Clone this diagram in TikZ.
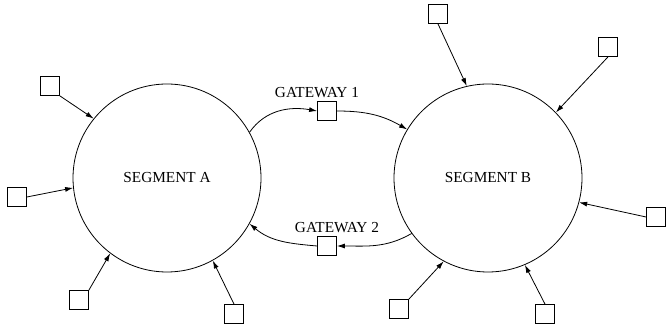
\documentclass[tikz,border=0pt]{standalone}
\usepackage{fontspec}
\setmainfont{Liberation Serif}
\usetikzlibrary{arrows.meta}
\tikzset{
  host/.style={rectangle, draw, minimum size=19pt, inner sep=0pt},
  segment/.style={circle, draw, minimum size=188pt, inner sep=0pt},
}
\begin{document}
\begin{tikzpicture}[x=1pt, y=1pt, line width=0.8pt, >={Latex[length=8pt,width=5pt]}, font=\fontsize{15.3}{18}\selectfont]
\useasboundingbox (0,0) rectangle (667,332);
% the two segments
\node (segA) at (167,154) [segment] {SEGMENT A};
\node (segB) at (488,154) [segment] {SEGMENT B};
% gateways between them
\node (gw1) at (327,221) [host, label={[xshift=-10pt]above:GATEWAY 1}] {};
\node (gw2) at (327,86) [host, label={[xshift=10pt]above:GATEWAY 2}] {};
\draw[->] (segA.29) to[out=55, in=170] (gw1.west);
\draw[->] (gw1.east) to[out=0, in=150] (segB.149);
\draw[->] (segB.216) to[out=210, in=0] (gw2.east);
\draw[->] (gw2.west) to[out=175, in=-40] (segA.331);
% hosts on segment A
\node (a1) at (50,246) [host] {};
\node (a2) at (17,135) [host] {};
\node (a3) at (79,32) [host] {};
\node (a4) at (234,18) [host] {};
\draw[->] (a1.south east) -- (segA.141);
\draw[->] (a2.east) -- (segA.186);
\draw[->] (a3.north east) -- (segA.233);
\draw[->] (a4.north) -- (segA.299);
% hosts on segment B
\node (b1) at (438,318) [host] {};
\node (b2) at (608,285) [host] {};
\node (b3) at (656,115) [host] {};
\node (b4) at (399,23) [host] {};
\node (b5) at (545,18) [host] {};
\draw[->] (b1.south) -- (segB.103);
\draw[->] (b2.south) -- (segB.44);
\draw[->] (b3.west) -- (segB.345);
\draw[->] (b4.north east) -- (segB.242);
\draw[->] (b5.north) -- (segB.293);
\end{tikzpicture}
\end{document}
